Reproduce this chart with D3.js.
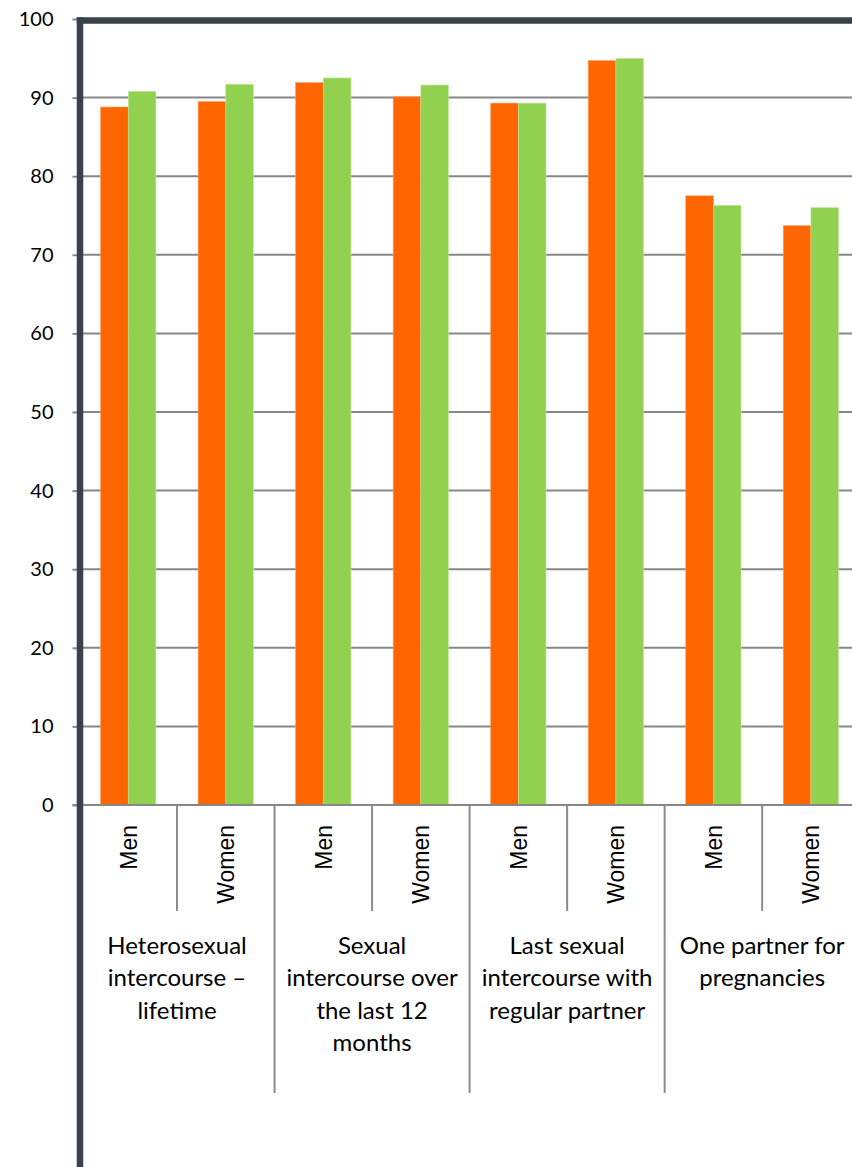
<!DOCTYPE html>
<html>
<head>
<meta charset="utf-8">
<script src="https://cdn.jsdelivr.net/npm/d3@7"></script>
<style>
  html, body { margin: 0; padding: 0; background: #fff; }
  svg { display: block; }
</style>
</head>
<body>
<svg id="chart" width="852" height="1167"></svg>
<script>
// ---- data ----
const groups = ["Heterosexual intercourse – lifetime", "Sexual intercourse over the last 12 months", "Last sexual intercourse with regular partner", "One partner for pregnancies"];
const groupLines = [
  ["Heterosexual", "intercourse –", "lifetime"],
  ["Sexual", "intercourse over", "the last 12", "months"],
  ["Last sexual", "intercourse with", "regular partner"],
  ["One partner for", "pregnancies"]
];
const genders = ["Men", "Women"];
const seriesNames = ["Series 1", "Series 2"];
// values per group, per gender: [Series 1, Series 2]
const series1 = [88.8, 89.5, 91.9, 90.1, 89.3, 94.7, 77.5, 73.7];
const series2 = [90.8, 91.7, 92.5, 91.6, 89.3, 95.0, 76.3, 76.0];
const yTicks = [0, 10, 20, 30, 40, 50, 60, 70, 80, 90, 100];
const colors = ["#FF6600", "#92D050"];

// ---- layout ----
const svg = d3.select("#chart");
const plotLeft = 79.5, plotRight = 859.7, yTop = 19, yBottom = 805;

const x0 = d3.scaleBand().domain(groups).range([plotLeft, plotRight]).padding(0);
const x1 = d3.scaleBand().domain(genders).range([0, x0.bandwidth()]).padding(0);
const x2 = d3.scaleBand().domain(seriesNames).range([0, x1.bandwidth()]).paddingInner(0).paddingOuter(0.764);
const y = d3.scaleLinear().domain([0, 100]).range([yBottom, yTop]);

const rows = [];
groups.forEach((g, gi) => {
  genders.forEach((s, si) => {
    const idx = gi * 2 + si;
    rows.push({group: g, gender: s, series: seriesNames[0], value: series1[idx], c: 0});
    rows.push({group: g, gender: s, series: seriesNames[1], value: series2[idx], c: 1});
  });
});

// gridlines
svg.append("g").selectAll("line")
  .data(yTicks.filter(t => t > 0 && t < 100))
  .join("line")
  .attr("x1", plotLeft).attr("x2", 852)
  .attr("y1", d => y(d)).attr("y2", d => y(d))
  .attr("stroke", "#878787").attr("stroke-width", 2);

// y axis ticks & labels
const yAxis = d3.axisLeft(y).tickValues(yTicks).tickSize(7).tickPadding(19).tickFormat(d3.format("d"));
const ya = svg.append("g").attr("transform", `translate(${plotLeft},0)`).call(yAxis);
ya.select(".domain").remove();
ya.selectAll(".tick line").attr("stroke", "#878787").attr("stroke-width", 2);
ya.selectAll(".tick text")
  .attr("font-family", "Lato, 'Open Sans', sans-serif")
  .attr("font-size", 20).attr("fill", "#000");

// bars
svg.append("g").selectAll("rect")
  .data(rows)
  .join("rect")
  .attr("x", d => x0(d.group) + x1(d.gender) + x2(d.series))
  .attr("y", d => y(d.value))
  .attr("width", x2.bandwidth())
  .attr("height", d => y(0) - y(d.value))
  .attr("fill", d => colors[d.c])
  .attr("stroke", d => d.c === 0 ? "#ff9a5c" : "#c4eaa0")
  .attr("stroke-width", 0.6);

// baseline
svg.append("line")
  .attr("x1", plotLeft - 7).attr("x2", 852)
  .attr("y1", y(0)).attr("y2", y(0))
  .attr("stroke", "#878787").attr("stroke-width", 2);

// separators between genders (short) and groups (long)
const seps = [];
groups.forEach((g, gi) => {
  seps.push({x: x0(g) + x1("Women"), long: false});
  if (gi > 0) seps.push({x: x0(g), long: true});
});
svg.append("g").selectAll("line")
  .data(seps)
  .join("line")
  .attr("x1", d => d.x).attr("x2", d => d.x)
  .attr("y1", y(0)).attr("y2", d => d.long ? 1093 : 911)
  .attr("stroke", "#8c8c8c").attr("stroke-width", 2);

// gender labels (rotated)
const gl = svg.append("g");
groups.forEach(g => {
  genders.forEach(s => {
    const cx = x0(g) + x1(s) + x1.bandwidth() / 2;
    gl.append("text")
      .attr("transform", `translate(${cx},825) rotate(-90)`)
      .attr("text-anchor", "end")
      .attr("dy", "0.36em")
      .attr("font-family", "'Liberation Sans', Arial, sans-serif")
      .attr("font-size", 23)
      .attr("fill", "#000")
      .text(s);
  });
});

// group labels
const glab = svg.append("g");
groups.forEach((g, gi) => {
  const cx = x0(g) + x0.bandwidth() / 2;
  const t = glab.append("text")
    .attr("text-anchor", "middle")
    .attr("font-family", "Lato, 'Open Sans', sans-serif")
    .attr("font-size", 24)
    .attr("fill", "#000");
  groupLines[gi].forEach((ln, li) => {
    t.append("tspan").attr("x", cx).attr("y", 954 + li * 32.3).text(ln);
  });
});

// dark frame lines
svg.append("line")
  .attr("x1", 80).attr("x2", 80).attr("y1", 17.3).attr("y2", 1167)
  .attr("stroke", "#37424a").attr("stroke-width", 6.5);
svg.append("line")
  .attr("x1", 76.8).attr("x2", 852).attr("y1", 20.6).attr("y2", 20.6)
  .attr("stroke", "#37424a").attr("stroke-width", 6.5);
</script>
</body>
</html>
